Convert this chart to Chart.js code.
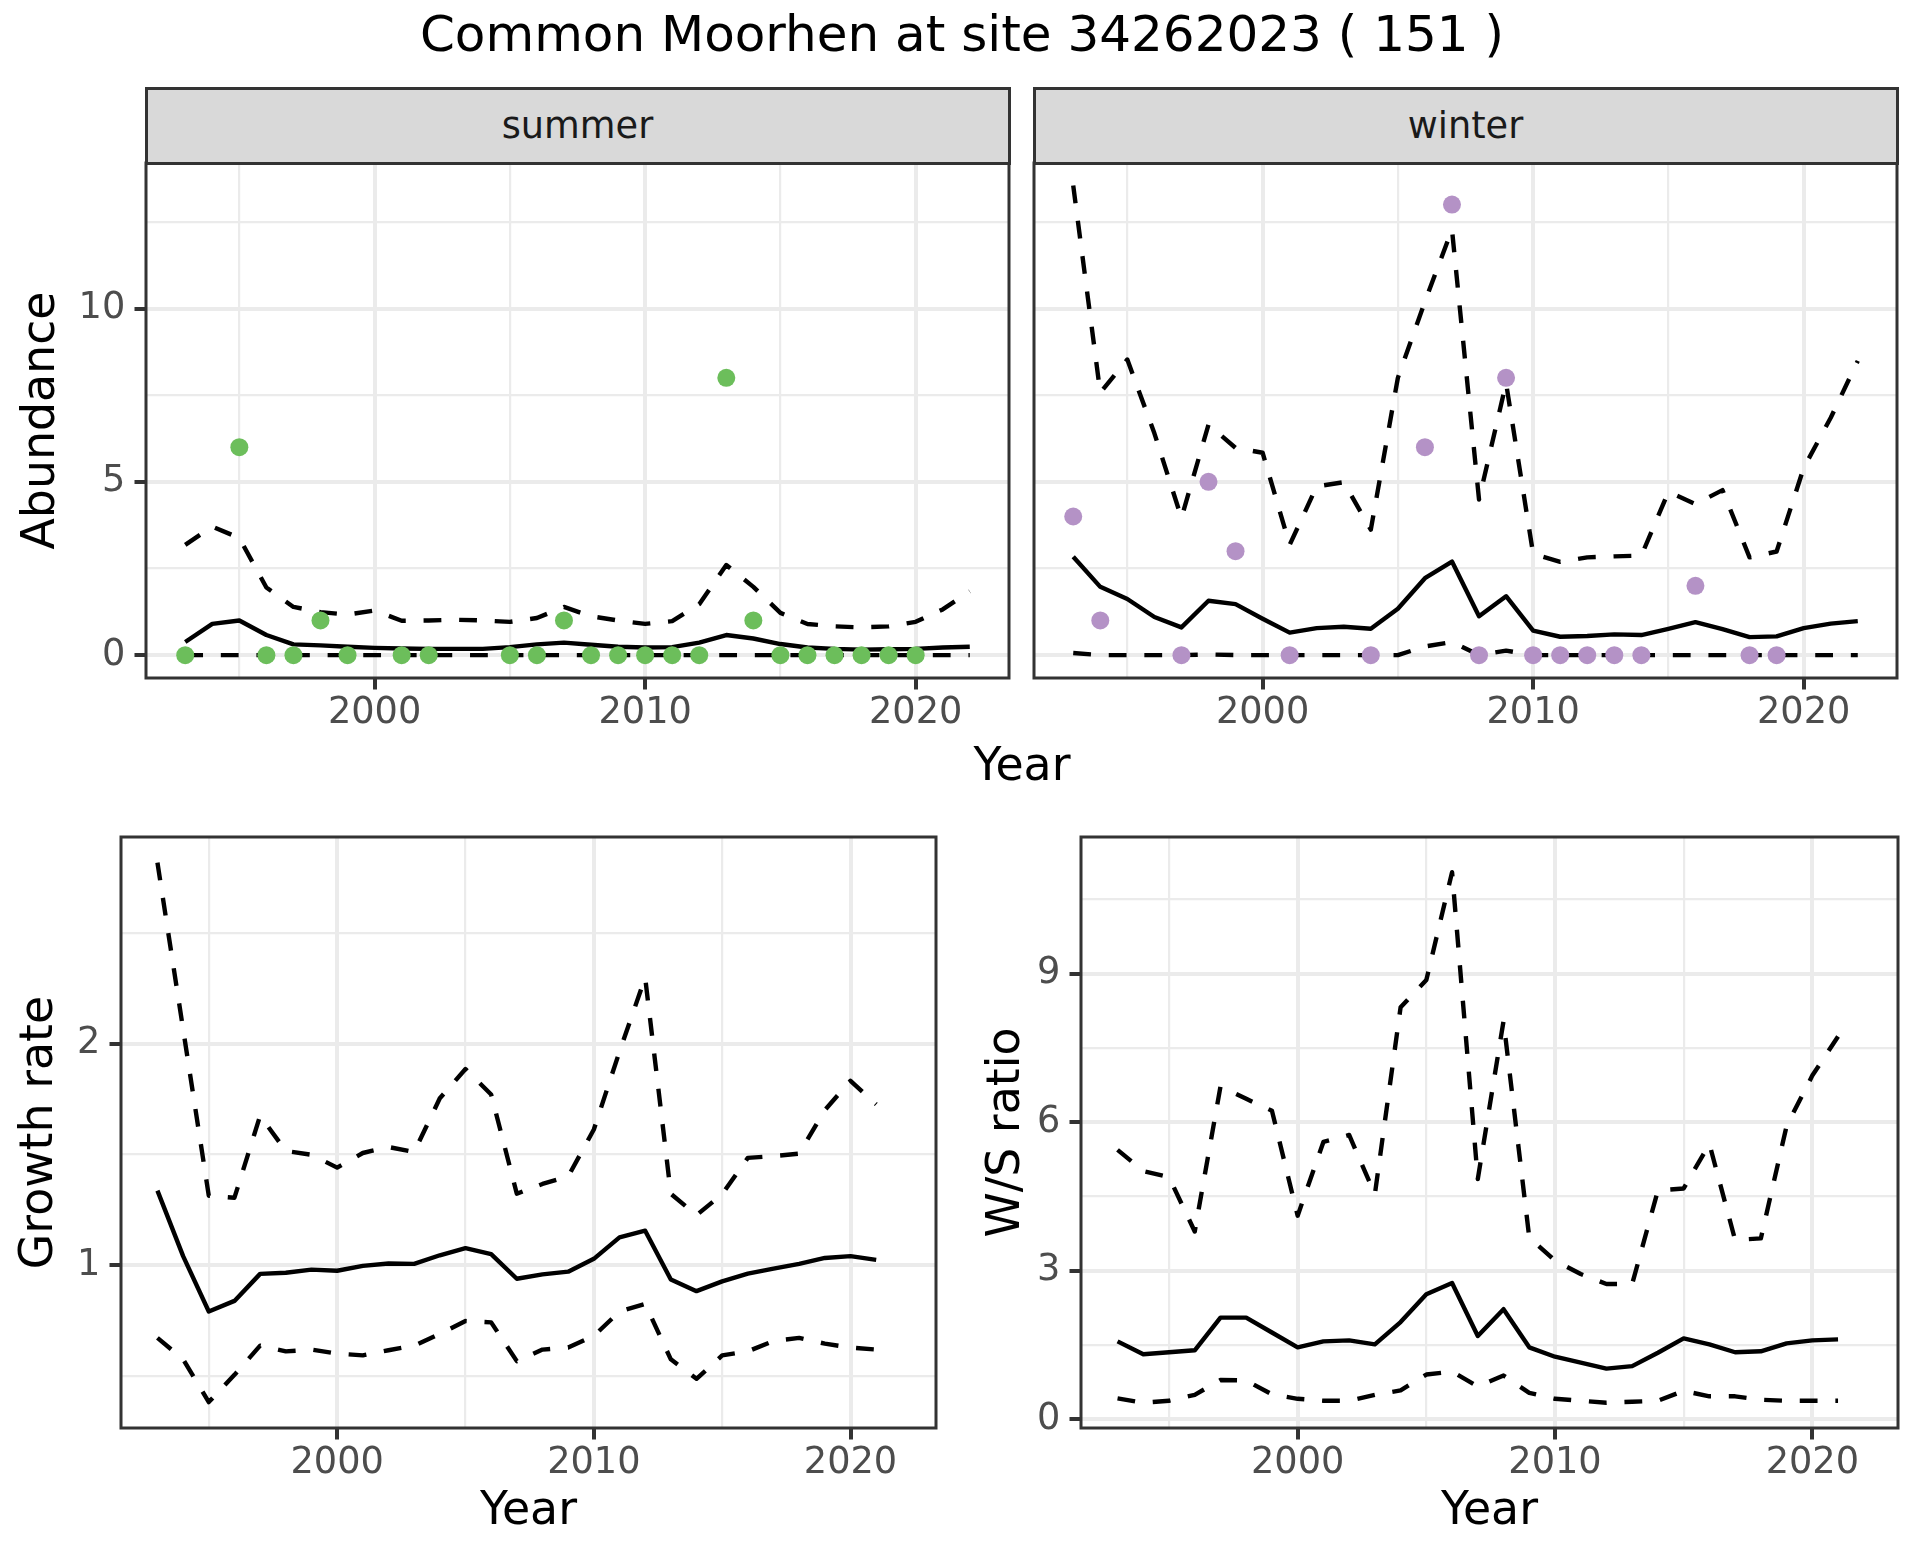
<!DOCTYPE html>
<html>
<head>
<meta charset="utf-8">
<title>Common Moorhen at site 34262023</title>
<script src="https://cdn.jsdelivr.net/npm/chart.js@4.4.1/dist/chart.umd.min.js"></script>
<style>
  html, body { margin: 0; padding: 0; background: #fff; }
  #pagina { position: relative; width: 1920px; height: 1560px; overflow: hidden; font-family: 'DejaVu Sans', sans-serif; }
  #pagina canvas { position: absolute; left: 0; top: 0; }
  .texto { position: absolute; white-space: nowrap; text-align: center; }
  #titulo { left: 0; width: 1924px; top: 9px; font-size: 50px; line-height: 50px; color: #000; }
  .faixa { position: absolute; box-sizing: border-box; top: 86.5px; height: 78px; width: 866px;
           background: #D9D9D9; border: 3px solid #333333; display: flex; align-items: center;
           justify-content: center; font-size: 36.7px; color: #1A1A1A; }
  #anoTopo { left: 822px; width: 400px; top: 741px; font-size: 45.8px; line-height: 46px; color: #000; }
</style>
</head>
<body>
<div id="pagina">
  <canvas id="gVerao" width="1920" height="1560"></canvas>
  <canvas id="gInverno" width="1920" height="1560"></canvas>
  <canvas id="gTaxa" width="1920" height="1560"></canvas>
  <canvas id="gRazao" width="1920" height="1560"></canvas>
  <div id="titulo" class="texto">Common Moorhen at site 34262023 ( 151 )</div>
  <div class="faixa" style="left:144.5px">summer</div>
  <div class="faixa" style="left:1032.5px">winter</div>
  <div id="anoTopo" class="texto">Year</div>
</div>
<script>
// anos
let anos = [1993,1994,1995,1996,1997,1998,1999,2000,2001,2002,2003,2004,2005,2006,2007,
            2008,2009,2010,2011,2012,2013,2014,2015,2016,2017,2018,2019,2020,2021,2022];
let anosTaxa = [1993,1994,1995,1996,1997,1998,1999,2000,2001,2002,2003,2004,2005,2006,2007,
                2008,2009,2010,2011,2012,2013,2014,2015,2016,2017,2018,2019,2020,2021];

// contagens de verao (null = sem contagem)
let veraoObs = [0,null,6,0,0,1,0,null,0,0,null,null,0,0,1,0,0,0,0,0,8,1,0,0,0,0,0,0,null,null];
let veraoAjuste = [0.38,0.9,1.0,0.58,0.31,0.28,0.24,0.21,0.19,0.18,0.18,0.18,0.23,0.31,0.36,
                   0.3,0.24,0.22,0.23,0.36,0.58,0.48,0.32,0.22,0.18,0.16,0.17,0.18,0.22,0.24];
let veraoSup = [3.18,3.71,3.38,1.95,1.39,1.24,1.17,1.29,0.99,1.0,1.02,1.0,0.96,1.07,1.39,
                1.12,1.0,0.9,0.98,1.47,2.6,1.97,1.22,0.9,0.83,0.8,0.83,0.96,1.32,1.84];
let veraoInf = [0,0,0,0,0,0,0,0,0,0,0,0,0,0,0,0,0,0,0,0,0,0,0,0,0,0,0,0,0,0];

// contagens de inverno
let invernoObs = [4,1,null,null,0,5,3,null,0,null,null,0,null,6,13,0,8,0,0,0,0,0,null,2,null,0,0,null,null,null];
let invernoAjuste = [2.84,1.97,1.62,1.1,0.8,1.57,1.47,1.05,0.65,0.78,0.82,0.76,1.34,2.22,2.7,
                     1.12,1.7,0.71,0.53,0.55,0.6,0.58,0.76,0.95,0.75,0.52,0.54,0.78,0.91,0.98];
let invernoSup = [13.55,7.57,8.53,6.4,3.96,6.65,5.98,5.84,3.18,4.87,4.99,3.62,8.0,10.2,12.28,
                  4.49,7.85,2.92,2.69,2.82,2.85,2.87,4.71,4.36,4.76,2.82,2.99,5.4,6.85,8.49];
let invernoInf = [0.06,0,0,0,0,0.02,0,0,0,0,0,0,0,0.25,0.38,0,0.13,0,0,0,0,0,0,0,0,0,0,0,0,0];

// taxa de crescimento
let taxaAjuste = [1.336,1.04,0.79,0.838,0.96,0.965,0.979,0.974,0.996,1.007,1.005,1.044,1.076,1.049,0.938,
                  0.958,0.97,1.028,1.125,1.155,0.935,0.882,0.926,0.961,0.984,1.005,1.032,1.04,1.023];
let taxaSup = [2.817,2.065,1.313,1.304,1.674,1.515,1.498,1.44,1.506,1.533,1.51,1.753,1.885,1.77,1.322,
               1.366,1.4,1.612,1.964,2.298,1.322,1.225,1.32,1.484,1.492,1.503,1.7,1.832,1.726];
let taxaInf = [0.671,0.574,0.381,0.504,0.636,0.61,0.618,0.6,0.592,0.615,0.636,0.689,0.747,0.741,0.566,
               0.618,0.627,0.68,0.79,0.824,0.574,0.486,0.592,0.61,0.657,0.671,0.645,0.627,0.618];

// razao inverno/verao
let razaoAjuste = [1.57,1.31,1.35,1.39,2.05,2.05,1.75,1.45,1.57,1.59,1.51,1.96,2.52,2.75,1.68,
                   2.22,1.45,1.26,1.14,1.02,1.07,1.34,1.63,1.51,1.35,1.37,1.53,1.59,1.61];
let razaoSup = [5.44,5.01,4.89,3.79,6.72,6.47,6.23,4.11,5.6,5.74,4.54,8.32,8.87,11.05,4.85,
                8.04,3.67,3.2,2.93,2.73,2.73,4.62,4.66,5.56,3.62,3.65,5.92,6.94,7.73];
let razaoInf = [0.42,0.33,0.37,0.49,0.79,0.78,0.5,0.41,0.37,0.37,0.49,0.58,0.9,0.96,0.66,
                0.88,0.53,0.41,0.37,0.33,0.35,0.37,0.57,0.46,0.46,0.39,0.37,0.37,0.37];

// marcas dos eixos
let anoMarcas = [2000, 2010, 2020];
let anoMenores = [1995, 2005, 2015];
let abundMarcas = [0, 5, 10];
let abundMenores = [2.5, 7.5, 12.5];
let taxaMarcas = [1, 2];
let taxaMenores = [0.5, 1.5, 2.5];
let razaoMarcas = [0, 3, 6, 9];
let razaoMenores = [1.5, 4.5, 7.5, 10.5];

const FONTE = "'DejaVu Sans', sans-serif";

function pares(xs, ys) {
    return xs.map((x, i) => ({x: x, y: ys[i]}));
}

function linha(xs, ys, tracejada) {
    return {
        data: pares(xs, ys),
        showLine: true,
        borderColor: '#000000',
        borderWidth: 4.4,
        borderDash: tracejada ? [17.8, 17.8] : [],
        borderJoinStyle: 'round',
        pointRadius: 0,
        pointHoverRadius: 0,
        tension: 0
    };
}

function pontos(xs, ys, cor) {
    return {
        data: pares(xs, ys),
        showLine: false,
        pointRadius: 9,
        pointHoverRadius: 9,
        pointBorderWidth: 0,
        backgroundColor: cor,
        borderColor: cor
    };
}

function escala(o) {
    let todas = o.marcas.concat(o.menores).sort((a, b) => a - b);
    let ehMarca = ctx => ctx.tick && o.marcas.indexOf(ctx.tick.value) >= 0;
    let titulo = {display: false};
    if (o.titulo) {
        titulo = {
            display: true,
            text: o.titulo,
            color: '#000000',
            font: {family: FONTE, size: 45.8, lineHeight: 1.2},
            padding: o.tituloPad
        };
    }
    return {
        type: 'linear',
        position: o.posicao,
        min: o.min,
        max: o.max,
        bounds: 'data',
        afterBuildTicks: s => { s.ticks = todas.map(v => ({value: v})); },
        afterFit: s => {
            if (o.posicao === 'left') s.width = o.tamanho;
            else s.height = o.tamanho;
        },
        border: {display: false},
        grid: {
            color: '#EBEBEB',
            lineWidth: ctx => ehMarca(ctx) ? 4 : 2.2,
            drawTicks: o.mostrar,
            tickLength: 11.5,
            tickWidth: 4,
            tickColor: ctx => ehMarca(ctx) ? '#333333' : 'rgba(0,0,0,0)'
        },
        ticks: {
            display: o.mostrar,
            autoSkip: false,
            maxRotation: 0,
            minRotation: 0,
            padding: o.posicao === 'left' ? 9.2 : 6,
            color: '#4D4D4D',
            font: {family: FONTE, size: 36.7, lineHeight: 1},
            callback: v => o.marcas.indexOf(v) >= 0 ? String(v) : ''
        },
        title: titulo
    };
}

const bordaPainel = {
    id: 'bordaPainel',
    afterDraw(chart) {
        let a = chart.chartArea;
        let ctx = chart.ctx;
        ctx.save();
        ctx.strokeStyle = '#333333';
        ctx.lineWidth = 3;
        ctx.strokeRect(a.left, a.top, a.right - a.left, a.bottom - a.top);
        ctx.restore();
    }
};

function grafico(id, datasets, x, y, padding) {
    return new Chart(document.getElementById(id), {
        type: 'scatter',
        data: {datasets: datasets},
        options: {
            responsive: false,
            animation: false,
            devicePixelRatio: 1,
            events: [],
            layout: {padding: padding},
            scales: {x: x, y: y},
            plugins: {legend: {display: false}, tooltip: {enabled: false}}
        },
        plugins: [bordaPainel]
    });
}

let xTopo = () => escala({posicao: 'bottom', min: 1991.55, max: 2023.45, marcas: anoMarcas,
                          menores: anoMenores, mostrar: true, tamanho: 60});
let xBaixo = () => escala({posicao: 'bottom', min: 1991.58, max: 2023.33, marcas: anoMarcas,
                           menores: anoMenores, mostrar: true, tamanho: 132,
                           titulo: 'Year', tituloPad: {bottom: 20.4}});

grafico('gVerao',
    [pontos(anos, veraoObs, '#6CBE5B'),
     linha(anos, veraoSup, true), linha(anos, veraoInf, true), linha(anos, veraoAjuste, false)],
    xTopo(),
    escala({posicao: 'left', min: -0.66, max: 14.2, marcas: abundMarcas, menores: abundMenores,
            mostrar: true, tamanho: 146, titulo: 'Abundance', tituloPad: {top: 15}}),
    {left: 0, right: 911, top: 163, bottom: 822});

grafico('gInverno',
    [pontos(anos, invernoObs, '#B492C6'),
     linha(anos, invernoSup, true), linha(anos, invernoInf, true), linha(anos, invernoAjuste, false)],
    xTopo(),
    escala({posicao: 'left', min: -0.66, max: 14.2, marcas: abundMarcas, menores: abundMenores,
            mostrar: false, tamanho: 0}),
    {left: 1034, right: 23, top: 163, bottom: 822});

grafico('gTaxa',
    [linha(anosTaxa, taxaSup, true), linha(anosTaxa, taxaInf, true), linha(anosTaxa, taxaAjuste, false)],
    xBaixo(),
    escala({posicao: 'left', min: 0.264, max: 2.933, marcas: taxaMarcas, menores: taxaMenores,
            mostrar: true, tamanho: 121, titulo: 'Growth rate', tituloPad: {top: 13}}),
    {left: 0, right: 984, top: 837, bottom: 0});

grafico('gRazao',
    [linha(anosTaxa, razaoSup, true), linha(anosTaxa, razaoInf, true), linha(anosTaxa, razaoAjuste, false)],
    xBaixo(),
    escala({posicao: 'left', min: -0.18, max: 11.76, marcas: razaoMarcas, menores: razaoMenores,
            mostrar: true, tamanho: 121, titulo: 'W/S ratio', tituloPad: {top: 19.4}}),
    {left: 960, right: 22, top: 837, bottom: 0});
</script>
</body>
</html>
